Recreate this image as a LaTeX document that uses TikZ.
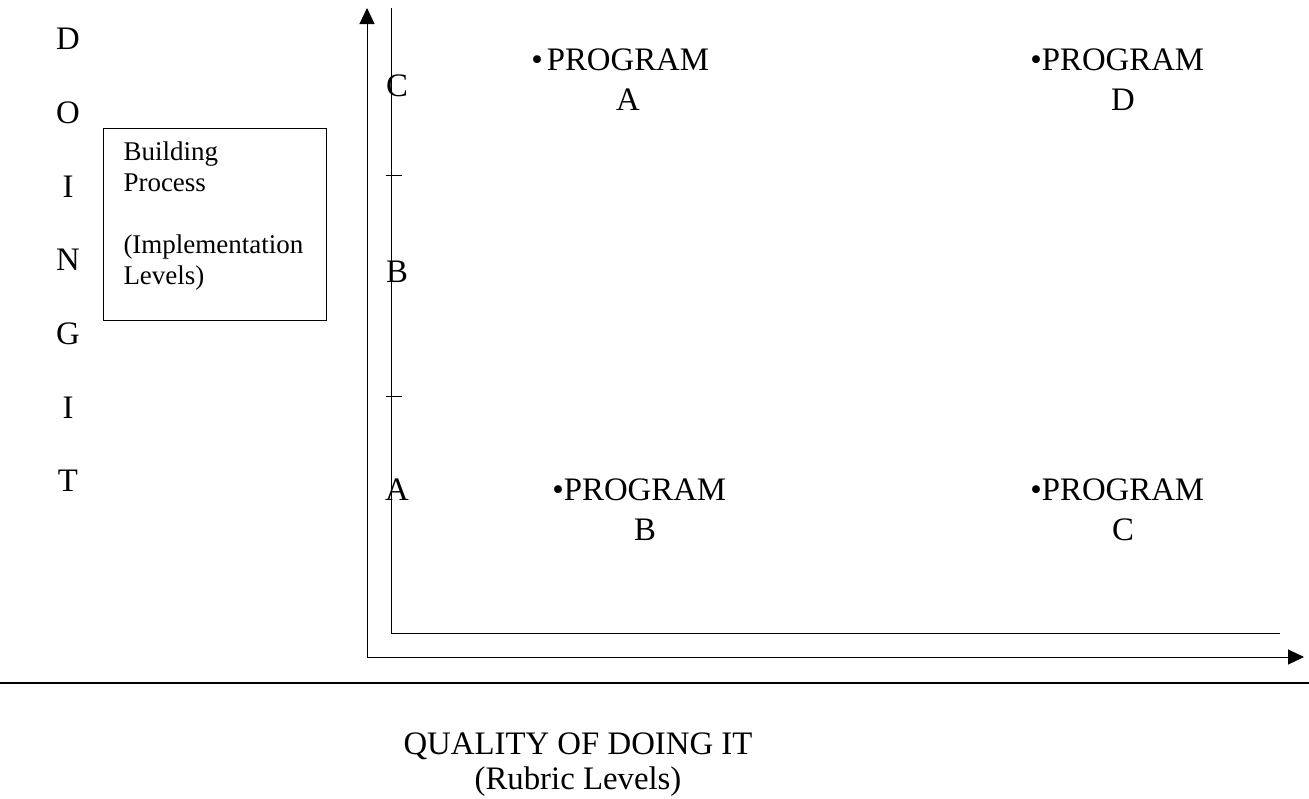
\documentclass[tikz,border=0pt]{standalone}
\usepackage{fontspec}
\setmainfont{Liberation Serif}
\usetikzlibrary{arrows.meta}

\tikzset{
  big/.style={font=\fontsize{16.4}{20}\selectfont, inner sep=0pt},
  small/.style={font=\fontsize{13.5}{15.5}\selectfont, inner sep=0pt},
  axis/.style={-{Triangle[length=8pt,width=7.5pt]}},
}

\begin{document}
\begin{tikzpicture}[x=0.5pt,y=-0.5pt,line width=.5pt]
        \useasboundingbox (0,0) rectangle (1309,798);
        % letters down the left side
        \foreach \l/\y [count=\i] in {D/39,O/113,I/187,N/260,G/334,I/408,T/481}
          \node[big] (side\i) at (68,\y) {\l};
        % box
        \node[draw, minimum width=111.5pt, minimum height=96pt, anchor=north west, inner sep=0pt] (process) at (103,128) {};
        \node[small, align=left, anchor=north west] (processtext) at (123,141)
          {Building\\Process\\[15.5pt](Implementation\\Levels)};
        % axes
        \coordinate (outerO) at (367,657);
        \coordinate (outerY) at (367,8);
        \coordinate (outerX) at (1304,657);
        \coordinate (innerO) at (391,633);
        \coordinate (innerY) at (391,8);
        \coordinate (innerX) at (1280,633);
        \draw[axis] (outerO) -- (outerY);
        \draw[axis] (outerO) -- (outerX);
        \draw (innerY) -- (innerO) -- (innerX);
        \draw (386,175) -- (402,175);
        \draw (386,396) -- (402,396);
        \node[big] (levelC) at (397,86) {C};
        \node[big] (levelB) at (397,272) {B};
        \node[big] (levelA) at (397,490) {A};
        % programs
        \node[big] (progA) at (628,60) {\llap{\textbullet\kern2pt}PROGRAM};
        \node[big] (progAl) at (628,100) {A};
        \node[big] (progD) at (1123,60) {\llap{\textbullet}PROGRAM};
        \node[big] (progDl) at (1123,100) {D};
        \node[big] (progB) at (645,490) {\llap{\textbullet}PROGRAM};
        \node[big] (progBl) at (645,530) {B};
        \node[big] (progC) at (1123,490) {\llap{\textbullet}PROGRAM};
        \node[big] (progCl) at (1123,530) {C};
        % bottom rule and caption
        \draw[line width=1pt] (0,683) -- (1309,683);
        \node[big] (quality) at (578,746) {QUALITY OF DOING IT};
        \node[big] (rubric) at (578,782) {(Rubric Levels)};
\end{tikzpicture}
\end{document}
